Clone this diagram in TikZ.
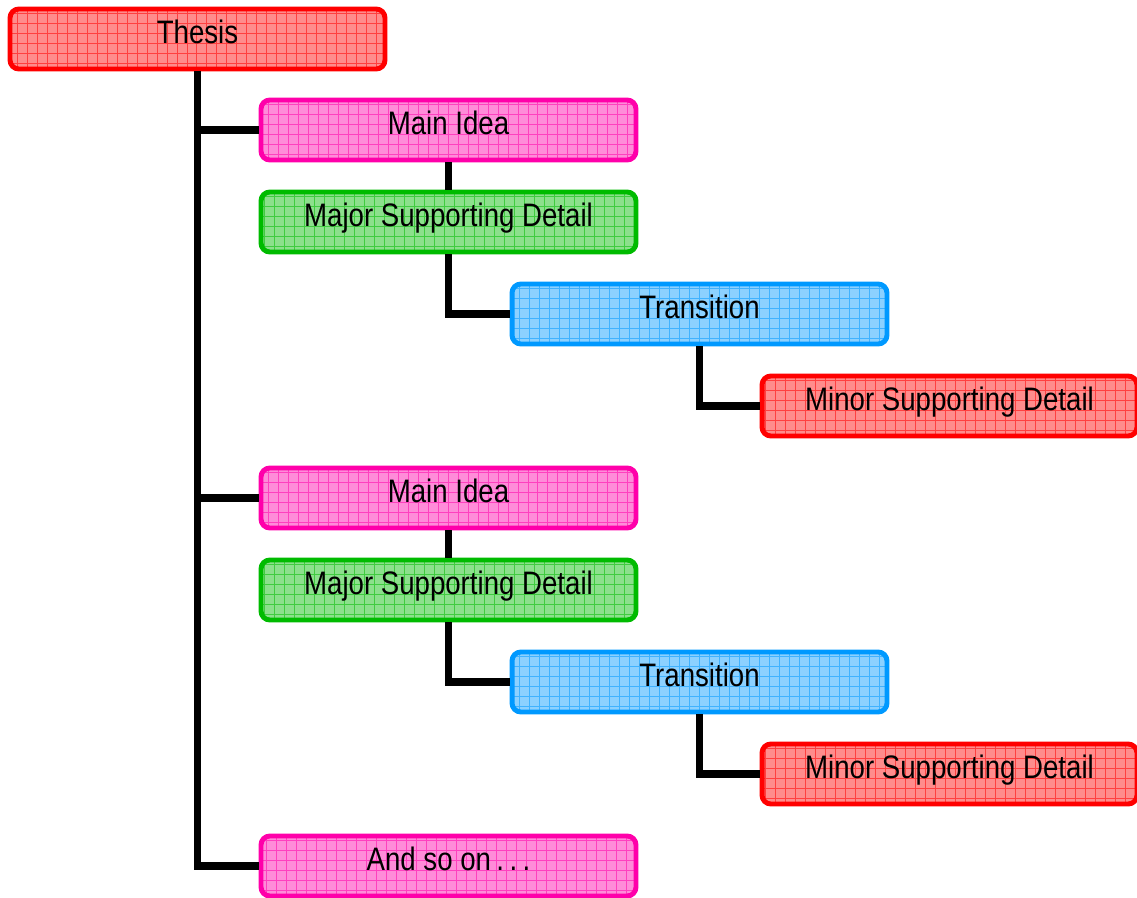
\documentclass[tikz,border=0pt]{standalone}
\usepackage{fontspec}
\setmainfont[FakeStretch=0.85]{Liberation Sans}
\usetikzlibrary{positioning}

\definecolor{thesisred}{HTML}{FF0000}
\definecolor{ideapink}{HTML}{FF00AA}
\definecolor{majorgreen}{HTML}{00BB00}
\definecolor{transblue}{HTML}{0099FF}

\begin{document}
\begin{tikzpicture}[x=0.02cm, y=-0.02cm,
  box/.style={draw=#1, fill=#1!45, line width=2.8pt, rounded corners=5pt,
    minimum width=7.5cm, minimum height=1.2cm, inner sep=0pt,
    text height=0.72em, text depth=0.18em,
    font=\fontsize{18.5}{21}\selectfont,
    path picture={\draw[#1!75, line width=0.35pt, step=0.2cm]
      (path picture bounding box.south west) grid (path picture bounding box.north east);}},
  link/.style={line width=4.4pt, draw=black}]
\path[use as bounding box] (0,0) rectangle (1137,897);
\node[box=thesisred] (thesis) at (197.5,39) {Thesis};
\node[box=ideapink] (ideaA) at (448.5,130) {Main Idea};
\node[box=majorgreen] (majorA) at (448.5,222) {Major Supporting Detail};
\node[box=transblue] (transA) at (699.5,314) {Transition};
\node[box=thesisred] (minorA) at (949.5,406) {Minor Supporting Detail};
\node[box=ideapink] (ideaB) at (448.5,498) {Main Idea};
\node[box=majorgreen] (majorB) at (448.5,590) {Major Supporting Detail};
\node[box=transblue] (transB) at (699.5,682) {Transition};
\node[box=thesisred] (minorB) at (949.5,774) {Minor Supporting Detail};
\node[box=ideapink] (more) at (448.5,866) {And so on\,.\,.\,.};
\draw[link] (thesis) |- (ideaA);
\draw[link] (thesis) |- (ideaB);
\draw[link] (thesis) |- (more);
\draw[link] (ideaA) -- (majorA);
\draw[link] (majorA) |- (transA);
\draw[link] (transA) |- (minorA);
\draw[link] (ideaB) -- (majorB);
\draw[link] (majorB) |- (transB);
\draw[link] (transB) |- (minorB);
\end{tikzpicture}
\end{document}
